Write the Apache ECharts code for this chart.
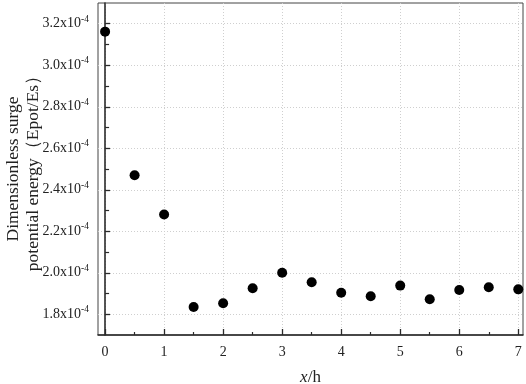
<!DOCTYPE html>
<html>
<head>
<meta charset="utf-8">
<script src="https://cdn.jsdelivr.net/npm/echarts@6/dist/echarts.min.js"></script>
<style>html,body{margin:0;padding:0;background:#fff}#c{width:526px;height:384px}</style>
</head>
<body>
<div id="c"></div>
<script>
const xValues = [0, 0.5, 1, 1.5, 2, 2.5, 3, 3.5, 4, 4.5, 5, 5.5, 6, 6.5, 7];
const yValues = [3.162e-4, 2.470e-4, 2.281e-4, 1.835e-4, 1.853e-4, 1.925e-4, 2.000e-4, 1.954e-4, 1.904e-4, 1.887e-4, 1.938e-4, 1.872e-4, 1.917e-4, 1.930e-4, 1.920e-4];
const xMajorTicks = [0, 1, 2, 3, 4, 5, 6, 7];
const xMinorTicks = [0.5, 1.5, 2.5, 3.5, 4.5, 5.5, 6.5];
const yMajorTicks = [1.8e-4, 2.0e-4, 2.2e-4, 2.4e-4, 2.6e-4, 2.8e-4, 3.0e-4, 3.2e-4];
const yMinorTicks = [1.9e-4, 2.1e-4, 2.3e-4, 2.5e-4, 2.7e-4, 2.9e-4, 3.1e-4];
const xName = '{i|x}/h';
const yName = 'Dimensionless surge\npotential energy（Epot/Es）';

const FONT = '"Liberation Serif", "Times New Roman", serif';
const AX = '#2a2a2a';
const chart = echarts.init(document.getElementById('c'), null, {renderer: 'canvas'});
const data = xValues.map((x, i) => [x, yValues[i]]);
chart.setOption({
  animation: false,
  backgroundColor: '#fff',
  grid: {left: 98, right: 3, top: 3, bottom: 49, containLabel: false, outerBoundsMode: 'none', show: true, borderColor: '#444', borderWidth: 1, backgroundColor: 'transparent'},
  xAxis: [{
    type: 'value', min: -0.12, max: 7.08,
    name: xName, nameLocation: 'middle', nameGap: 34, nameMoveOverlap: false,
    nameTextStyle: {fontFamily: FONT, fontSize: 17, color: '#222', rich: {i: {fontFamily: FONT, fontSize: 17, fontStyle: 'italic', color: '#222'}}},
    axisLine: {show: true, lineStyle: {color: AX, width: 1.6}},
    axisTick: {show: true, inside: true, length: 6, customValues: xMajorTicks, lineStyle: {color: AX, width: 1.3}},
    axisLabel: {show: true, customValues: xMajorTicks, margin: 10, fontFamily: FONT, fontSize: 14, color: '#222'},
    splitLine: {show: true, lineStyle: {color: '#cfcfcf', type: [1, 2], width: 1}}
  }, {
    type: 'value', min: -0.12, max: 7.08, position: 'bottom',
    axisLine: {show: false},
    axisTick: {show: true, inside: true, length: 3, customValues: xMinorTicks, lineStyle: {color: AX, width: 1.2}},
    axisLabel: {show: false},
    splitLine: {show: false}
  }],
  yAxis: [{
    type: 'value', min: 1.7e-4, max: 3.3e-4,
    name: yName, nameLocation: 'middle', nameRotate: 90, nameGap: 55, nameMoveOverlap: false,
    nameTextStyle: {fontFamily: FONT, fontSize: 17.5, color: '#222', lineHeight: 20},
    axisLine: {show: true, lineStyle: {color: AX, width: 1.6}},
    axisTick: {show: true, inside: true, length: 5, customValues: yMajorTicks, lineStyle: {color: AX, width: 1.3}},
    axisLabel: {
      show: true, customValues: yMajorTicks, margin: 9,
      fontFamily: FONT, fontSize: 14, color: '#222',
      formatter: v => (v * 1e4).toFixed(1) + 'x10{s|-4}',
      rich: {s: {fontFamily: FONT, fontSize: 9.5, color: '#222', padding: [0, 0, 9, 0]}}
    },
    splitLine: {show: true, lineStyle: {color: '#cfcfcf', type: [1, 2], width: 1}}
  }, {
    type: 'value', min: 1.7e-4, max: 3.3e-4, position: 'left',
    axisLine: {show: false},
    axisTick: {show: true, inside: true, length: 4, customValues: yMinorTicks, lineStyle: {color: AX, width: 1.2}},
    axisLabel: {show: false},
    splitLine: {show: false}
  }],
  series: [{
    type: 'scatter', xAxisIndex: 0, yAxisIndex: 0,
    data: data, symbol: 'circle', symbolSize: 10,
    itemStyle: {color: '#000', opacity: 1}
  }]
});
</script>
</body>
</html>
